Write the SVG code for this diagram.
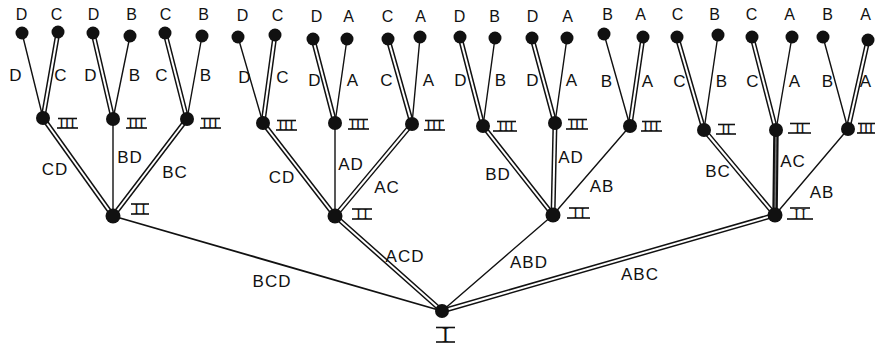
<svg xmlns="http://www.w3.org/2000/svg" width="875" height="347" viewBox="0 0 875 347">
  <style>
    .s { stroke: #111; stroke-width: 1.4; fill: none; stroke-linecap: round; }
    .o { stroke: #111; stroke-width: 5; stroke-linecap: round; }
    .i { stroke: #fff; stroke-width: 2; }
    .ig { stroke: #777; stroke-width: 1.4; }
    .dot { fill: #111; }
    .lab { font-family: "Liberation Sans", Arial, sans-serif; font-size: 17px; fill: #111; text-anchor: middle; letter-spacing: 1px; }
    .top { font-size: 16px; }
    .rn { font-family: "Liberation Serif", "Times New Roman", serif; font-size: 15px; fill: #111; text-anchor: middle; }
    .bar { stroke: #111; stroke-width: 1.6; }
  </style>

  <!-- connectors: double-ruled edges first, single edges drawn over them -->
  <g id="connectors">
    <!-- root to level II -->
    <g class="edge"><line class="o" x1="442" y1="311" x2="335" y2="216"/><line class="i" x1="442" y1="311" x2="335" y2="216"/><text class="lab" x="405" y="262">ACD</text></g>
    <g class="edge"><line class="o" x1="442" y1="311" x2="775" y2="215"/><line class="i" x1="442" y1="311" x2="775" y2="215"/><text class="lab" x="640" y="280">ABC</text></g>
    <g class="edge"><line class="s" style="stroke-width:1.8" x1="442" y1="311" x2="113" y2="216"/><text class="lab" x="272" y="287">BCD</text></g>
    <g class="edge"><line class="s" x1="442" y1="311" x2="553" y2="215"/><text class="lab" x="529" y="268">ABD</text></g>

    <!-- level II to level III -->
    <g class="edge"><line class="o" x1="113" y1="216" x2="43" y2="118"/><line class="i" x1="113" y1="216" x2="43" y2="118"/><text class="lab" x="55" y="175">CD</text></g>
    <g class="edge"><line class="o" x1="113" y1="216" x2="187" y2="119"/><line class="i" x1="113" y1="216" x2="187" y2="119"/><text class="lab" x="175" y="178">BC</text></g>
    <g class="edge"><line class="s" x1="113" y1="216" x2="113" y2="119"/><text class="lab" x="130" y="163">BD</text></g>

    <g class="edge"><line class="o" x1="335" y1="216" x2="263" y2="123"/><line class="i" x1="335" y1="216" x2="263" y2="123"/><text class="lab" x="282" y="183">CD</text></g>
    <g class="edge"><line class="o" x1="335" y1="216" x2="412" y2="124"/><line class="i" x1="335" y1="216" x2="412" y2="124"/><text class="lab" x="387" y="193">AC</text></g>
    <g class="edge"><line class="s" x1="335" y1="216" x2="335" y2="123"/><text class="lab" x="351" y="170">AD</text></g>

    <g class="edge"><line class="o" x1="553" y1="215" x2="483" y2="126"/><line class="i" x1="553" y1="215" x2="483" y2="126"/><text class="lab" x="498" y="180">BD</text></g>
    <g class="edge"><line class="o" x1="553" y1="215" x2="555" y2="123"/><line class="i" x1="553" y1="215" x2="555" y2="123"/><text class="lab" x="571" y="163">AD</text></g>
    <g class="edge"><line class="s" x1="553" y1="215" x2="630" y2="126"/><text class="lab" x="602" y="192">AB</text></g>

    <g class="edge"><line class="o" x1="775" y1="215" x2="704" y2="130"/><line class="i" x1="775" y1="215" x2="704" y2="130"/><text class="lab" x="718" y="177">BC</text></g>
    <g class="edge"><line class="o" style="stroke-width:5.5" x1="775" y1="215" x2="776" y2="130"/><line class="ig" x1="775" y1="215" x2="776" y2="130"/><text class="lab" x="793" y="167">AC</text></g>
    <g class="edge"><line class="s" x1="775" y1="215" x2="848" y2="129"/><text class="lab" x="822" y="198">AB</text></g>

    <!-- level III to leaves: double edges -->
    <g class="edge"><line class="o" x1="43" y1="118" x2="58" y2="32"/><line class="i" x1="43" y1="118" x2="58" y2="32"/><text class="lab" x="61" y="81">C</text></g>
    <g class="edge"><line class="o" x1="113" y1="119" x2="93" y2="33"/><line class="i" x1="113" y1="119" x2="93" y2="33"/><text class="lab" x="91" y="81">D</text></g>
    <g class="edge"><line class="o" x1="187" y1="119" x2="165" y2="33"/><line class="i" x1="187" y1="119" x2="165" y2="33"/><text class="lab" x="162" y="81">C</text></g>
    <g class="edge"><line class="o" x1="263" y1="123" x2="275" y2="35"/><line class="i" x1="263" y1="123" x2="275" y2="35"/><text class="lab" x="283" y="83">C</text></g>
    <g class="edge"><line class="o" x1="335" y1="123" x2="313" y2="39"/><line class="i" x1="335" y1="123" x2="313" y2="39"/><text class="lab" x="315" y="86">D</text></g>
    <g class="edge"><line class="o" x1="412" y1="124" x2="388" y2="39"/><line class="i" x1="412" y1="124" x2="388" y2="39"/><text class="lab" x="387" y="86">C</text></g>
    <g class="edge"><line class="o" x1="483" y1="126" x2="460" y2="37"/><line class="i" x1="483" y1="126" x2="460" y2="37"/><text class="lab" x="461" y="86">D</text></g>
    <g class="edge"><line class="o" x1="555" y1="123" x2="532" y2="38"/><line class="i" x1="555" y1="123" x2="532" y2="38"/><text class="lab" x="533" y="86">D</text></g>
    <g class="edge"><line class="o" x1="630" y1="126" x2="643" y2="37"/><line class="i" x1="630" y1="126" x2="643" y2="37"/><text class="lab" x="648" y="87">A</text></g>
    <g class="edge"><line class="o" x1="704" y1="130" x2="677" y2="37"/><line class="i" x1="704" y1="130" x2="677" y2="37"/><text class="lab" x="680" y="87">C</text></g>
    <g class="edge"><line class="o" x1="776" y1="130" x2="752" y2="37"/><line class="i" x1="776" y1="130" x2="752" y2="37"/><text class="lab" x="753" y="87">C</text></g>
    <g class="edge"><line class="o" x1="848" y1="129" x2="868" y2="40"/><line class="i" x1="848" y1="129" x2="868" y2="40"/><text class="lab" x="866" y="87">A</text></g>

    <!-- level III to leaves: single edges -->
    <g class="edge"><line class="s" x1="43" y1="118" x2="22" y2="33"/><text class="lab" x="16" y="81">D</text></g>
    <g class="edge"><line class="s" x1="113" y1="119" x2="130" y2="36"/><text class="lab" x="135" y="81">B</text></g>
    <g class="edge"><line class="s" x1="187" y1="119" x2="202" y2="36"/><text class="lab" x="206" y="81">B</text></g>
    <g class="edge"><line class="s" x1="263" y1="123" x2="238" y2="37"/><text class="lab" x="245" y="83">D</text></g>
    <g class="edge"><line class="s" x1="335" y1="123" x2="347" y2="39"/><text class="lab" x="353" y="86">A</text></g>
    <g class="edge"><line class="s" x1="412" y1="124" x2="420" y2="37"/><text class="lab" x="429" y="86">A</text></g>
    <g class="edge"><line class="s" x1="483" y1="126" x2="495" y2="38"/><text class="lab" x="501" y="86">B</text></g>
    <g class="edge"><line class="s" x1="555" y1="123" x2="567" y2="38"/><text class="lab" x="572" y="86">A</text></g>
    <g class="edge"><line class="s" x1="630" y1="126" x2="604" y2="34"/><text class="lab" x="607" y="87">B</text></g>
    <g class="edge"><line class="s" x1="704" y1="130" x2="718" y2="35"/><text class="lab" x="722" y="87">B</text></g>
    <g class="edge"><line class="s" x1="776" y1="130" x2="792" y2="37"/><text class="lab" x="795" y="87">A</text></g>
    <g class="edge"><line class="s" x1="848" y1="129" x2="823" y2="37"/><text class="lab" x="828" y="87">B</text></g>
  </g>

  <!-- root -->
  <g id="n-root">
    <circle class="dot" cx="442" cy="311" r="7"/>
    <text class="rn" style="font-size:22px" x="445.5" y="342">I</text>
    <line class="bar" x1="436" y1="327.5" x2="455" y2="327.5"/>
    <line class="bar" x1="436" y1="342" x2="455" y2="342"/>
  </g>

  <!-- level II -->
  <g id="n-bcd">
    <circle class="dot" cx="113" cy="216" r="7.5"/>
    <text class="rn" x="140" y="214" textLength="12" lengthAdjust="spacing">II</text>
    <line class="bar" x1="131" y1="204" x2="149" y2="204"/><line class="bar" x1="131" y1="214" x2="149" y2="214"/>
  </g>
  <g id="n-acd">
    <circle class="dot" cx="335" cy="216" r="7.5"/>
    <text class="rn" x="362" y="219" textLength="12" lengthAdjust="spacing">II</text>
    <line class="bar" x1="352" y1="209" x2="372" y2="209"/><line class="bar" x1="352" y1="219" x2="372" y2="219"/>
  </g>
  <g id="n-abd">
    <circle class="dot" cx="553" cy="215" r="7.5"/>
    <text class="rn" x="579" y="218" textLength="12" lengthAdjust="spacing">II</text>
    <line class="bar" x1="569" y1="208" x2="589" y2="208"/><line class="bar" x1="567" y1="218" x2="590" y2="218"/>
  </g>
  <g id="n-abc">
    <circle class="dot" cx="775" cy="215" r="7.5"/>
    <text class="rn" x="800" y="219" textLength="12" lengthAdjust="spacing">II</text>
    <line class="bar" x1="790" y1="208" x2="810" y2="208"/><line class="bar" x1="787" y1="219" x2="813" y2="219"/>
  </g>

  <!-- level III -->
  <g id="n-cd1">
    <circle class="dot" cx="43" cy="118" r="7"/>
    <text class="rn" x="67" y="128" textLength="16" lengthAdjust="spacing">III</text>
    <line class="bar" x1="58" y1="118.5" x2="77" y2="118.5"/><line class="bar" x1="57" y1="128" x2="78" y2="128"/>
  </g>
  <g id="n-bd1">
    <circle class="dot" cx="113" cy="119" r="7"/>
    <text class="rn" x="136" y="128" textLength="16" lengthAdjust="spacing">III</text>
    <line class="bar" x1="127" y1="118.5" x2="146" y2="118.5"/><line class="bar" x1="126" y1="128" x2="147" y2="128"/>
  </g>
  <g id="n-bc1">
    <circle class="dot" cx="187" cy="119" r="7"/>
    <text class="rn" x="210" y="128" textLength="16" lengthAdjust="spacing">III</text>
    <line class="bar" x1="201" y1="118.5" x2="220" y2="118.5"/><line class="bar" x1="200" y1="128" x2="221" y2="128"/>
  </g>
  <g id="n-cd2">
    <circle class="dot" cx="263" cy="123" r="7"/>
    <text class="rn" x="286" y="130" textLength="16" lengthAdjust="spacing">III</text>
    <line class="bar" x1="277" y1="120.5" x2="296" y2="120.5"/><line class="bar" x1="276" y1="130" x2="297" y2="130"/>
  </g>
  <g id="n-ad2">
    <circle class="dot" cx="335" cy="123" r="7"/>
    <text class="rn" x="358" y="129" textLength="16" lengthAdjust="spacing">III</text>
    <line class="bar" x1="349" y1="119.5" x2="368" y2="119.5"/><line class="bar" x1="348" y1="129" x2="369" y2="129"/>
  </g>
  <g id="n-ac2">
    <circle class="dot" cx="412" cy="124" r="7"/>
    <text class="rn" x="434" y="130" textLength="16" lengthAdjust="spacing">III</text>
    <line class="bar" x1="425" y1="120.5" x2="444" y2="120.5"/><line class="bar" x1="424" y1="130" x2="445" y2="130"/>
  </g>
  <g id="n-bd3">
    <circle class="dot" cx="483" cy="126" r="7"/>
    <text class="rn" x="506" y="131" textLength="16" lengthAdjust="spacing">III</text>
    <line class="bar" x1="497" y1="121.5" x2="516" y2="121.5"/><line class="bar" x1="493" y1="131" x2="517" y2="131"/>
  </g>
  <g id="n-ad3">
    <circle class="dot" cx="555" cy="123" r="7"/>
    <text class="rn" x="577" y="129" textLength="16" lengthAdjust="spacing">III</text>
    <line class="bar" x1="568" y1="119.5" x2="587" y2="119.5"/><line class="bar" x1="566" y1="129" x2="588" y2="129"/>
  </g>
  <g id="n-ab3">
    <circle class="dot" cx="630" cy="126" r="7"/>
    <text class="rn" x="651" y="131" textLength="16" lengthAdjust="spacing">III</text>
    <line class="bar" x1="642" y1="121.5" x2="661" y2="121.5"/><line class="bar" x1="641" y1="131" x2="662" y2="131"/>
  </g>
  <g id="n-bc4">
    <circle class="dot" cx="704" cy="130" r="7"/>
    <text class="rn" x="726" y="134" textLength="10" lengthAdjust="spacing">II</text>
    <line class="bar" x1="718" y1="124.5" x2="735" y2="124.5"/><line class="bar" x1="716" y1="134" x2="736" y2="134"/>
  </g>
  <g id="n-ac4">
    <circle class="dot" cx="776" cy="130" r="7"/>
    <text class="rn" x="800" y="133" textLength="10" lengthAdjust="spacing">II</text>
    <line class="bar" x1="790" y1="123.5" x2="810" y2="123.5"/><line class="bar" x1="788" y1="133" x2="811" y2="133"/>
  </g>
  <g id="n-ab4">
    <circle class="dot" cx="848" cy="129" r="7"/>
    <text class="rn" x="866" y="133" textLength="15" lengthAdjust="spacing">III</text>
    <line class="bar" x1="858" y1="123.5" x2="875" y2="123.5"/><line class="bar" x1="857" y1="133" x2="875" y2="133"/>
  </g>

  <!-- leaves -->
  <g id="leaf-1"><circle class="dot" cx="22" cy="33" r="6.5"/><text class="lab top" x="22" y="20">D</text></g>
  <g id="leaf-2"><circle class="dot" cx="58" cy="32" r="6.5"/><text class="lab top" x="57" y="20">C</text></g>
  <g id="leaf-3"><circle class="dot" cx="93" cy="33" r="6.5"/><text class="lab top" x="94" y="20">D</text></g>
  <g id="leaf-4"><circle class="dot" cx="130" cy="36" r="6.5"/><text class="lab top" x="132" y="20">B</text></g>
  <g id="leaf-5"><circle class="dot" cx="165" cy="33" r="6.5"/><text class="lab top" x="166" y="20">C</text></g>
  <g id="leaf-6"><circle class="dot" cx="202" cy="36" r="6.5"/><text class="lab top" x="204" y="20">B</text></g>
  <g id="leaf-7"><circle class="dot" cx="238" cy="37" r="6.5"/><text class="lab top" x="243" y="21">D</text></g>
  <g id="leaf-8"><circle class="dot" cx="275" cy="35" r="6.5"/><text class="lab top" x="278" y="21">C</text></g>
  <g id="leaf-9"><circle class="dot" cx="313" cy="39" r="6.5"/><text class="lab top" x="317" y="22">D</text></g>
  <g id="leaf-10"><circle class="dot" cx="347" cy="39" r="6.5"/><text class="lab top" x="349" y="22">A</text></g>
  <g id="leaf-11"><circle class="dot" cx="388" cy="39" r="6.5"/><text class="lab top" x="388" y="22">C</text></g>
  <g id="leaf-12"><circle class="dot" cx="420" cy="37" r="6.5"/><text class="lab top" x="421" y="22">A</text></g>
  <g id="leaf-13"><circle class="dot" cx="460" cy="37" r="6.5"/><text class="lab top" x="460" y="22">D</text></g>
  <g id="leaf-14"><circle class="dot" cx="495" cy="38" r="6.5"/><text class="lab top" x="495" y="22">B</text></g>
  <g id="leaf-15"><circle class="dot" cx="532" cy="38" r="6.5"/><text class="lab top" x="533" y="22">D</text></g>
  <g id="leaf-16"><circle class="dot" cx="567" cy="38" r="6.5"/><text class="lab top" x="568" y="22">A</text></g>
  <g id="leaf-17"><circle class="dot" cx="604" cy="34" r="6.5"/><text class="lab top" x="608" y="20">B</text></g>
  <g id="leaf-18"><circle class="dot" cx="643" cy="37" r="6.5"/><text class="lab top" x="641" y="20">A</text></g>
  <g id="leaf-19"><circle class="dot" cx="677" cy="37" r="6.5"/><text class="lab top" x="678" y="20">C</text></g>
  <g id="leaf-20"><circle class="dot" cx="718" cy="35" r="6.5"/><text class="lab top" x="715" y="20">B</text></g>
  <g id="leaf-21"><circle class="dot" cx="752" cy="37" r="6.5"/><text class="lab top" x="752" y="20">C</text></g>
  <g id="leaf-22"><circle class="dot" cx="792" cy="37" r="6.5"/><text class="lab top" x="790" y="20">A</text></g>
  <g id="leaf-23"><circle class="dot" cx="823" cy="37" r="6.5"/><text class="lab top" x="828" y="20">B</text></g>
  <g id="leaf-24"><circle class="dot" cx="868" cy="40" r="6.5"/><text class="lab top" x="866" y="20">A</text></g>
</svg>
